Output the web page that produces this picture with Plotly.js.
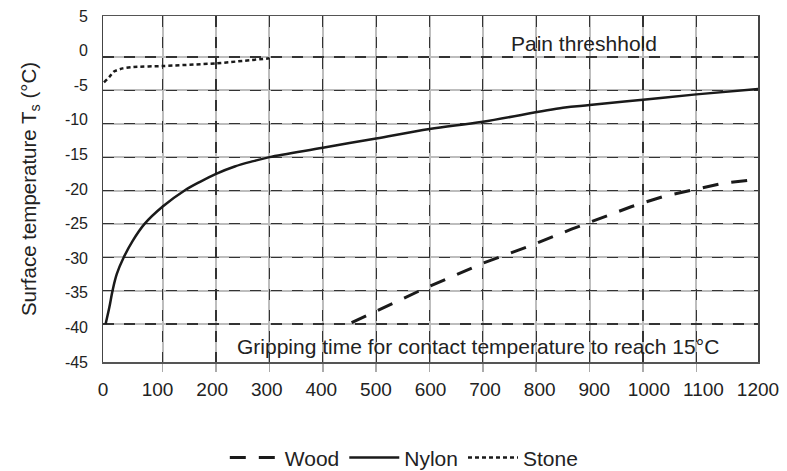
<!DOCTYPE html>
<html>
<head>
<meta charset="utf-8">
<script src="https://cdn.plot.ly/plotly-3.0.1.min.js"></script>
<style>html,body{margin:0;padding:0;background:#fff;}#chart{width:787px;height:471px;}</style>
</head>
<body>
<div id="chart"></div>
<script>
// Gripping time (s) vs surface temperature (°C)
const woodX  = [454, 520, 590, 700, 785, 866, 979, 1038, 1094, 1151, 1216];
const woodY  = [-39.8, -37.3, -34.7, -30.9, -28.4, -25.8, -22.4, -20.9, -19.9, -18.9, -18.3];

const nylonX = [-7, 0, 6, 14, 27, 44, 66, 100, 141, 170, 200, 235, 270, 300, 400, 500, 600, 700, 850, 900, 1000, 1100, 1216];
const nylonY = [-40, -37.5, -35, -32.5, -30, -27.5, -25, -22.4, -20, -18.7, -17.5, -16.4, -15.6, -15.0, -13.6, -12.2, -10.8, -9.7, -7.6, -7.2, -6.4, -5.6, -4.8];

const stoneX = [-10, 0, 8, 25, 45, 100, 200, 300];
const stoneY = [-3.8, -3.0, -2.2, -1.7, -1.5, -1.35, -0.95, -0.2];

const xTickVals = [0, 100, 200, 300, 400, 500, 600, 700, 800, 900, 1000, 1100, 1200];
const yTickVals = [5, 0, -5, -10, -15, -20, -25, -30, -35, -40, -45];
const xGridVals = [100, 200, 300, 400, 500, 600, 700, 800, 900, 1000, 1100];
const yGridVals = [0, -5, -10, -15, -20, -25, -30, -35, -40];

const seriesNames = ['Wood', 'Nylon', 'Stone'];

const FONT = 'Liberation Sans, Arial, sans-serif';
const INK = '#1a1a1a';

const dataRangeX = [-11.9, 1215.6];
const dataRangeY = [-45.69, 6.14];

const traces = [
  {x: [], y: [], xaxis: 'x2', yaxis: 'y2', showlegend: false, hoverinfo: 'skip'},
  {x: [], y: [], xaxis: 'x3', yaxis: 'y3', showlegend: false, hoverinfo: 'skip'},
  {x: woodX, y: woodY, name: seriesNames[0], mode: 'lines',
   line: {color: INK, width: 3, dash: '16px,13px'}},
  {x: nylonX, y: nylonY, name: seriesNames[1], mode: 'lines',
   line: {color: INK, width: 2.5, shape: 'spline', smoothing: 1}},
  {x: stoneX, y: stoneY, name: seriesNames[2], mode: 'lines',
   line: {color: INK, width: 2.5, dash: '4px,3px', shape: 'spline', smoothing: 0.5}}
];

const layout = {
  width: 787, height: 471,
  margin: {l: 103, r: 29, t: 16, b: 109, autoexpand: false},
  paper_bgcolor: '#fff', plot_bgcolor: '#fff',
  font: {family: FONT, color: '#222'},
  showlegend: true,
  legend: {orientation: 'h', x: 0.46, xanchor: 'center', y: -0.277, yanchor: 'middle',
           font: {size: 21, family: FONT, color: '#222'}, itemwidth: 50, traceorder: 'normal',
           tracegroupgap: 0},
  xaxis: {range: dataRangeX, tickmode: 'array', tickvals: xGridVals, showticklabels: false,
          ticks: 'outside', ticklen: 8, tickcolor: '#aaaaaa', tickwidth: 1.5,
          showgrid: true, gridcolor: '#bdbdbd', gridwidth: 2, zeroline: false,
          showline: true, mirror: true, linecolor: '#555', linewidth: 1.5},
  yaxis: {range: dataRangeY, tickmode: 'array', tickvals: yGridVals, showticklabels: false,
          ticks: '', showgrid: true, gridcolor: '#bdbdbd', gridwidth: 2, zeroline: false,
          showline: true, mirror: true, linecolor: '#444', linewidth: 1.5},
  xaxis2: {overlaying: 'x', anchor: 'y2', range: dataRangeX, tickmode: 'array', tickvals: xGridVals,
           showticklabels: false, ticks: '', showgrid: true, gridcolor: '#333', gridwidth: 1.2,
           griddash: '11px,10px', zeroline: false, showline: false},
  yaxis2: {overlaying: 'y', anchor: 'x2', range: dataRangeY, tickmode: 'array', tickvals: yGridVals,
           showticklabels: false, ticks: '', showgrid: true, gridcolor: '#333', gridwidth: 1.2,
           griddash: '11px,10px', zeroline: false, showline: false},
  xaxis3: {overlaying: 'x', anchor: 'y3', range: [0, 1200], tickmode: 'array', tickvals: xTickVals,
           ticktext: xTickVals.map(String),
           ticks: '', showgrid: false, zeroline: false, showline: false,
           tickfont: {size: 19, family: FONT, color: '#222'}, ticklabelstandoff: 14},
  yaxis3: {overlaying: 'y', anchor: 'x3', range: [-45, 5], tickmode: 'array', tickvals: yTickVals,
           ticktext: yTickVals.map(String),
           ticks: '', showgrid: false, zeroline: false, showline: false,
           tickfont: {size: 16, family: FONT, color: '#222'}, ticklabelstandoff: 14,
           title: {text: 'Surface temperature T<sub>s</sub> (°C)', standoff: 22,
                   font: {size: 20.5, family: FONT, color: '#222'}}},
  annotations: [
    {text: 'Pain threshhold', xref: 'paper', yref: 'paper', x: 0.734, y: 0.921,
     xanchor: 'center', yanchor: 'middle', showarrow: false,
     font: {size: 21, family: FONT, color: '#222'}},
    {text: 'Gripping time for contact temperature to reach 15°C', xref: 'paper', yref: 'paper',
     x: 0.572, y: 0.044, xanchor: 'center', yanchor: 'middle', showarrow: false,
     font: {size: 21, family: FONT, color: '#222'}}
  ]
};

Plotly.newPlot('chart', traces, layout, {staticPlot: true, displayModeBar: false});
</script>
</body>
</html>
